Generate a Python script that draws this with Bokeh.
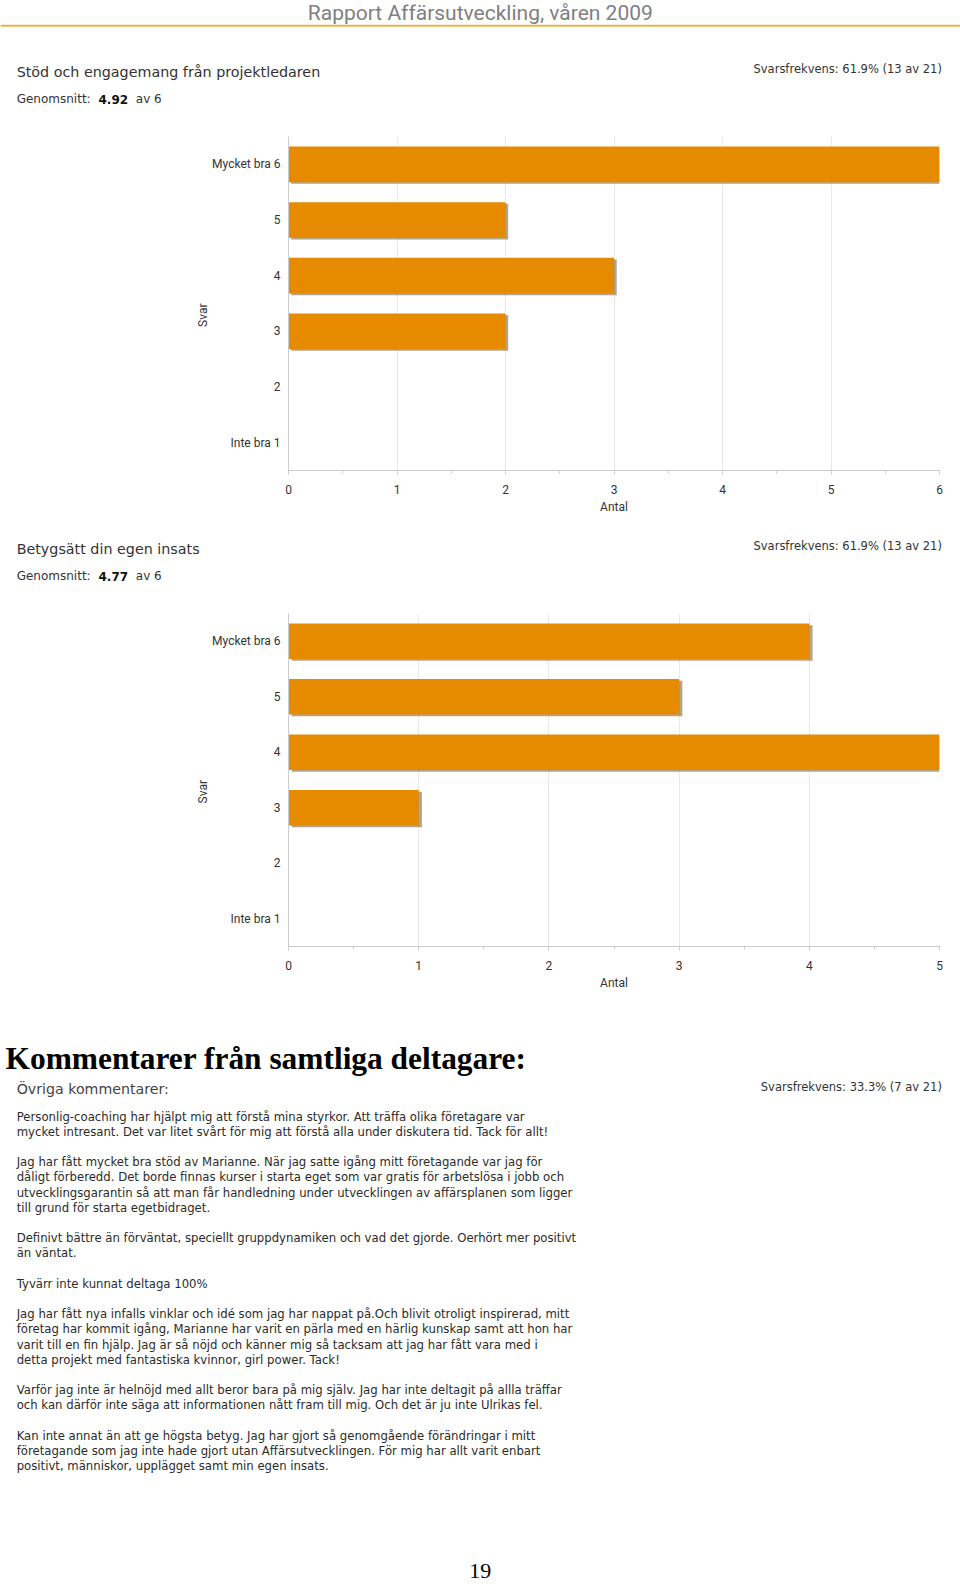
import math
from bokeh.plotting import figure
from bokeh.layouts import column
from bokeh.models import Range1d, FactorRange, ColumnDataSource, SingleIntervalTicker
from bokeh.transform import dodge
from bokeh.core.properties import value
from bokeh.embed import file_html
from bokeh.resources import INLINE

# ---------------- data ----------------
header_text = "Rapport Affärsutveckling, våren 2009"
categories = ["Inte bra 1", "2", "3", "4", "5", "Mycket bra 6"]  # bottom -> top

q1_title = "Stöd och engagemang från projektledaren"
q1_rate = "Svarsfrekvens: 61.9% (13 av 21)"
q1_avg = "4.92"
q1_counts = [0, 0, 2, 3, 2, 6]
q1_xmax = 6

q2_title = "Betygsätt din egen insats"
q2_rate = "Svarsfrekvens: 61.9% (13 av 21)"
q2_avg = "4.77"
q2_counts = [0, 0, 1, 5, 3, 4]
q2_xmax = 5

comments_heading = "Kommentarer från samtliga deltagare:"
comments_title = "Övriga kommentarer:"
comments_rate = "Svarsfrekvens: 33.3% (7 av 21)"
comments = [
    ["Personlig-coaching har hjälpt mig att förstå mina styrkor. Att träffa olika företagare var",
     "mycket intresant. Det var litet svårt för mig att förstå alla under diskutera tid. Tack för allt!"],
    ["Jag har fått mycket bra stöd av Marianne. När jag satte igång mitt företagande var jag för",
     "dåligt förberedd. Det borde finnas kurser i starta eget som var gratis för arbetslösa i jobb och",
     "utvecklingsgarantin så att man får handledning under utvecklingen av affärsplanen som ligger",
     "till grund för starta egetbidraget."],
    ["Definivt bättre än förväntat, speciellt gruppdynamiken och vad det gjorde. Oerhört mer positivt",
     "än väntat."],
    ["Tyvärr inte kunnat deltaga 100%"],
    ["Jag har fått nya infalls vinklar och idé som jag har nappat på.Och blivit otroligt inspirerad, mitt",
     "företag har kommit igång, Marianne har varit en pärla med en härlig kunskap samt att hon har",
     "varit till en fin hjälp. Jag är så nöjd och känner mig så tacksam att jag har fått vara med i",
     "detta projekt med fantastiska kvinnor, girl power. Tack!"],
    ["Varför jag inte är helnöjd med allt beror bara på mig själv. Jag har inte deltagit på allla träffar",
     "och kan därför inte säga att informationen nått fram till mig. Och det är ju inte Ulrikas fel."],
    ["Kan inte annat än att ge högsta betyg. Jag har gjort så genomgående förändringar i mitt",
     "företagande som jag inte hade gjort utan Affärsutvecklingen. För mig har allt varit enbart",
     "positivt, människor, upplägget samt min egen insats."],
]
page_number = "19"

# ---------------- layout / style ----------------
K = 1.0101           # layout scale (page px per target px)
W = 960
SANS = "DejaVu Sans"
NARROW = "Roboto"
SERIF = "Liberation Serif"
TXT = "#333333"
BAR = "#E68A00"
SHADOW = "#6b4a1a"
SHADOW_DX = 0.025
GRID = "#e8e8e8"
AXIS = "#cccccc"


def k(v):
    return int(round(v * K))


# block boundaries (target px)
A0, B0, C0, D0, E0 = 0, 130, 515, 602, 987
bA, bB, bC, bD, bE = k(A0), k(B0), k(C0), k(D0), k(E0)
bEND = 1584


def text_fig(h):
    return figure(width=W, height=h, x_range=Range1d(0, W), y_range=Range1d(h, 0),
                  x_axis_type=None, y_axis_type=None, toolbar_location=None,
                  output_backend="svg", min_border=0, outline_line_color=None,
                  frame_align=False)


def txt(p, base, x, y, s, size, font=SANS, color=TXT, align="left", style="normal",
        baseline="middle"):
    p.text(x=[x * K], y=[y * K - base], text=[s], text_font=value(font),
           text_font_size=size, text_color=color, text_align=align,
           text_baseline=baseline, text_font_style=style)


def question_header(p, base, y0, title, rate, avg):
    txt(p, base, 16, y0, title, "14.3px")
    txt(p, base, 932, y0 - 3, rate, "11.5px", align="right")
    txt(p, base, 16, y0 + 27, "Genomsnitt:", "12px")
    txt(p, base, 97, y0 + 27, avg, "12px", style="bold", color="#111111")
    txt(p, base, 134, y0 + 27, "av 6", "12px")


def chart(counts, xmax, top_px, fr_top, fr_bot, bot_px):
    h = bot_px - top_px
    p = figure(width=W, height=h, y_range=FactorRange(factors=categories),
               x_range=Range1d(0, xmax), toolbar_location=None, output_backend="svg",
               min_border_left=k(285), min_border_right=W - k(930),
               min_border_top=k(fr_top) - top_px, min_border_bottom=bot_px - k(fr_bot),
               outline_line_color=None, frame_align=False)
    src = ColumnDataSource(dict(cat=categories, val=counts))
    p.hbar(y=dodge("cat", -0.03, range=p.y_range), left=SHADOW_DX, right=dodge("val", SHADOW_DX),
           height=0.64, source=src, fill_color=SHADOW, fill_alpha=0.5, line_color=None)
    p.hbar(y="cat", left=0, right="val", height=0.64, source=src,
           fill_color=BAR, line_color=None)
    p.ygrid.grid_line_color = None
    p.xgrid.grid_line_color = GRID
    p.xaxis.ticker = SingleIntervalTicker(interval=1, num_minor_ticks=2)
    for ax in (p.xaxis[0], p.yaxis[0]):
        ax.axis_line_color = AXIS
        ax.major_label_text_font = NARROW
        ax.major_label_text_font_size = "12px"
        ax.major_label_text_color = TXT
        ax.axis_label_text_font = NARROW
        ax.axis_label_text_font_size = "12px"
        ax.axis_label_text_font_style = "normal"
        ax.axis_label_text_color = TXT
    p.xaxis.major_tick_line_color = AXIS
    p.xaxis.major_tick_out = 4
    p.xaxis.major_tick_in = 0
    p.xaxis.minor_tick_line_color = AXIS
    p.xaxis.minor_tick_out = 3
    p.xaxis.minor_tick_in = 0
    p.xaxis.major_label_standoff = 10
    p.xaxis.axis_label = "Antal"
    p.xaxis.axis_label_standoff = 3
    p.yaxis.major_tick_line_color = None
    p.yaxis.major_tick_out = 0
    p.yaxis.major_tick_in = 0
    p.yaxis.minor_tick_line_color = None
    p.yaxis.major_label_standoff = 8
    p.yaxis.axis_label = "Svar"
    p.yaxis.axis_label_standoff = 6
    p.yaxis.axis_label_orientation = math.pi / 2
    return p


# ---- block A: header + question 1 title ----
a = text_fig(bB - bA)
txt(a, bA, 475, 12, header_text, "21px", font=NARROW, color="#808080", align="center")
a.segment(x0=[0], y0=[25 * K], x1=[W], y1=[25 * K], line_color="#E3B64C", line_width=2)
question_header(a, bA, 71, q1_title, q1_rate, q1_avg)

b = chart(q1_counts, q1_xmax, bB, 135, 465, bC)

# ---- block C: question 2 title ----
c = text_fig(bD - bC)
question_header(c, bC, 543, q2_title, q2_rate, q2_avg)

d = chart(q2_counts, q2_xmax, bD, 607, 937, bE)

# ---- block E: comments ----
e = text_fig(bEND - bE)
txt(e, bE, 5, 1047, comments_heading, "31.4px", font=SERIF, color="#000000", style="bold")
txt(e, bE, 16, 1078, comments_title, "14.2px", color="#444444")
txt(e, bE, 932, 1076, comments_rate, "11.5px", align="right")
line_h = 15.04
row = 0
xs, ys, ts = [], [], []
for para in comments:
    for ln in para:
        xs.append(16 * K)
        ys.append((1105 + row * line_h) * K - bE)
        ts.append(ln)
        row += 1
    row += 1
e.text(x=xs, y=ys, text=ts, text_font=value(SANS), text_font_size="11.7px",
       text_color="#2b2b2b", text_baseline="middle", text_align="left")
txt(e, bE, 475, 1555, page_number, "22px", font=SERIF, color="#000000", align="center")

layout = column(a, b, c, d, e, spacing=0)
open("out.html", "w").write(file_html(layout, INLINE))
